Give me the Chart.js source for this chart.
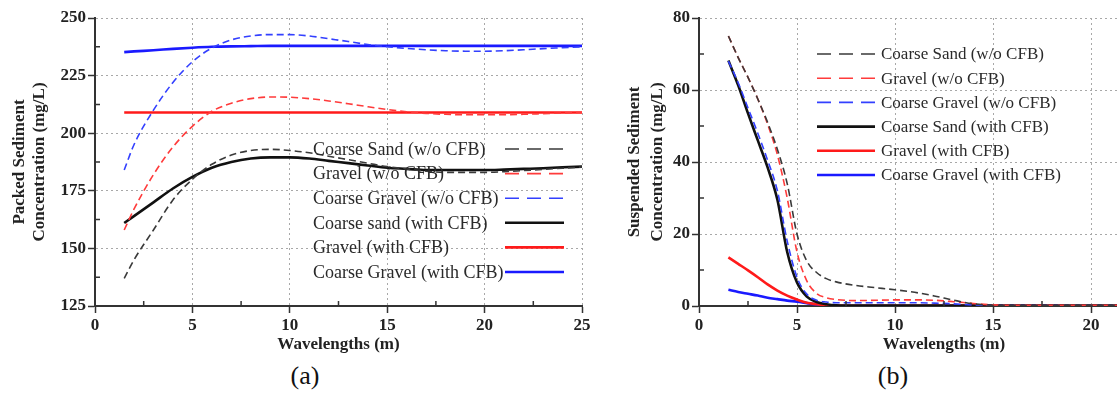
<!DOCTYPE html>
<html>
<head>
<meta charset="utf-8">
<script src="https://cdn.jsdelivr.net/npm/chart.js@4.4.1/dist/chart.umd.min.js"></script>
<style>
  html, body { margin: 0; padding: 0; background: #fff; overflow: hidden; }
  body { width: 1117px; height: 396px; position: relative; }
  .box { position: absolute; top: 0; width: 600px; height: 360px; }
  #boxA { left: 0; }
  #boxB { left: 600px; }
  .cap { position: absolute; top: 361px; line-height: 30px; font: 26px "Liberation Serif", serif; color: #111; transform: translateX(-50%); }
</style>
</head>
<body>
<div class="box" id="boxA"><canvas id="chartA" width="600" height="360"></canvas></div>
<div class="box" id="boxB"><canvas id="chartB" width="600" height="360"></canvas></div>
<div class="cap" style="left:305px">(a)</div>
<div class="cap" style="left:893px">(b)</div>
<script>
// (a) packed sediment concentration
const xA = [1.5, 2, 3, 4, 5, 6, 7, 8, 9, 10, 11, 12, 13, 14, 15, 16, 17, 18, 19, 20, 21, 22, 23, 24, 25];
const sandNoA = [137, 145, 158, 171, 180, 186.5, 190.5, 192.5, 193, 192.5, 191.5, 190, 188.5, 187, 185.5, 184.5, 183.5, 183, 183, 183, 183.3, 183.8, 184.3, 184.8, 185.3];
const gravelNoA = [158, 167, 182, 194, 203, 209.5, 213, 215, 215.7, 215.6, 215, 214, 212.8, 211.5, 210.3, 209.3, 208.6, 208.2, 208, 208, 208, 208.2, 208.5, 208.8, 209];
const cgravelNoA = [184, 195, 210, 222, 231, 237, 240.5, 242.2, 242.8, 242.8, 242.2, 241, 239.8, 238.5, 237.5, 236.8, 236.2, 235.8, 235.6, 235.6, 235.8, 236.2, 236.7, 237.1, 237.5];
const sandCfbA = [161, 164, 170, 176, 181, 185, 187.5, 189, 189.5, 189.5, 189, 188, 187, 186, 185, 184.5, 184, 184, 184, 184, 184.2, 184.5, 184.8, 185.2, 185.5];
const gravelCfbA = [209, 209, 209, 209, 209, 209, 209, 209, 209, 209, 209, 209, 209, 209, 209, 209, 209, 209, 209, 209, 209, 209, 209, 209, 209];
const cgravelCfbA = [235.2, 235.5, 236, 236.6, 237.1, 237.5, 237.7, 237.8, 237.9, 237.9, 237.9, 237.9, 237.9, 237.9, 237.9, 237.9, 237.9, 237.9, 237.9, 237.9, 237.9, 237.9, 237.9, 237.9, 237.9];
const labelsA = ['Coarse Sand (w/o CFB)', 'Gravel (w/o CFB)', 'Coarse Gravel (w/o CFB)', 'Coarse sand (with CFB)', 'Gravel (with CFB)', 'Coarse Gravel (with CFB)'];

// (b) suspended sediment concentration
const xB = [1.5, 2, 2.5, 3, 3.5, 4, 4.5, 5, 5.5, 6, 6.5, 7, 8, 9, 10, 11, 12, 13, 14, 15, 16, 17, 18, 19, 20, 21, 22, 23, 24, 25];
const sandNoB = [75, 69, 63.5, 57.5, 51, 43.5, 34, 20, 12.5, 9.3, 7.6, 6.7, 5.7, 5.1, 4.5, 3.8, 2.8, 1.6, 0.6, 0.2, 0.1, 0.1, 0.1, 0.2, 0.2, 0.2, 0.3, 0.3, 0.3, 0.3];
const gravelNoB = [75, 69, 63.5, 57.5, 50.5, 42, 30, 15, 7, 3.5, 2.3, 1.8, 1.5, 1.6, 1.7, 1.7, 1.6, 1.2, 0.7, 0.3, 0.2, 0.2, 0.2, 0.2, 0.2, 0.2, 0.2, 0.2, 0.2, 0.2];
const cgravelNoB = [68, 62, 55, 48, 40.5, 32, 18, 8, 3.3, 1.6, 1.1, 0.9, 0.9, 0.9, 0.9, 0.9, 0.8, 0.6, 0.3, 0.1, 0.1, 0.1, 0.1, 0.1, 0.1, 0.1, 0.1, 0.1, 0.1, 0.1];
const sandCfbB = [68.2, 61.3, 53.5, 46, 38.5, 29.5, 15, 6.5, 2.6, 1.1, 0.5, 0.2, 0.1, 0.1, 0.1, 0.1, 0.1, 0.1, 0.1, 0.1, 0.1, 0.1, 0.1, 0.1, 0.1, 0.1, 0.1, 0.1, 0.1, 0.1];
const gravelCfbB = [13.5, 11.7, 9.9, 8, 6, 4.3, 2.9, 1.8, 0.9, 0.5, 0.2, 0.1, 0.05, 0.05, 0.05, 0.05, 0.05, 0.05, 0.05, 0.05, 0.05, 0.05, 0.05, 0.05, 0.05, 0.05, 0.05, 0.05, 0.05, 0.05];
const cgravelCfbB = [4.5, 3.9, 3.4, 2.9, 2.3, 1.9, 1.5, 1.2, 0.8, 0.4, 0.1, 0, 0, 0, 0, 0, 0, 0, 0, 0, 0, 0, 0, 0, 0, 0, 0, 0, 0, 0];
const labelsB = ['Coarse Sand (w/o CFB)', 'Gravel (w/o CFB)', 'Coarse Gravel (w/o CFB)', 'Coarse Sand (with CFB)', 'Gravel (with CFB)', 'Coarse Gravel (with CFB)'];

// minor tick values
const minorX = [2.5, 7.5, 12.5, 17.5, 22.5];
const minorYA = [137.5, 162.5, 187.5, 212.5, 237.5];
const minorYB = [10, 30, 50, 70];

const SERIF = '"Liberation Serif", "Times New Roman", serif';
const styles = [
  { color: '#3a3a3a', width: 1.6, dash: [7, 4] },
  { color: '#ff3b3b', width: 1.6, dash: [7, 4] },
  { color: '#3340ff', width: 1.6, dash: [7, 4] },
  { color: '#111111', width: 2.6, dash: [] },
  { color: '#ff1a1a', width: 2.6, dash: [] },
  { color: '#1a1aff', width: 2.6, dash: [] }
];

function makeSets(xs, series, labels) {
  return series.map((ys, i) => ({
    label: labels[i],
    data: xs.map((x, j) => ({ x: x, y: ys[j] })),
    borderColor: styles[i].color,
    borderWidth: styles[i].width,
    borderDash: styles[i].dash,
    pointRadius: 0,
    cubicInterpolationMode: 'monotone',
    fill: false
  }));
}

// small inward ticks between the labelled ones
const minorTicks = {
  id: 'minorTicks',
  afterDraw(chart, args, opts) {
    const { ctx, chartArea: a, scales } = chart;
    ctx.save();
    ctx.strokeStyle = '#333';
    ctx.lineWidth = 1.5;
    ctx.beginPath();
    (opts.x || []).forEach(v => {
      const px = scales.x.getPixelForValue(v);
      ctx.moveTo(px, a.bottom); ctx.lineTo(px, a.bottom - 5);
    });
    (opts.y || []).forEach(v => {
      const py = scales.y.getPixelForValue(v);
      ctx.moveTo(a.left, py); ctx.lineTo(a.left + 5, py);
    });
    ctx.stroke();
    ctx.restore();
  }
};

// legend drawn inside the plot, like the original figure
const insideLegend = {
  id: 'insideLegend',
  afterDatasetsDraw(chart, args, o) {
    const { ctx, chartArea: a } = chart;
    ctx.save();
    ctx.font = o.font;
    ctx.fillStyle = '#2a2a2a';
    ctx.textBaseline = 'middle';
    chart.data.datasets.forEach((ds, i) => {
      const y = a.top + o.y0 + i * o.dy;
      ctx.fillText(ds.label, a.left + o.textX, y + 1);
      ctx.strokeStyle = ds.borderColor;
      ctx.lineWidth = ds.borderWidth;
      ctx.setLineDash(ds.borderDash.length ? o.dash : []);
      ctx.beginPath();
      ctx.moveTo(a.left + o.lineX0, y);
      ctx.lineTo(a.left + o.lineX1, y);
      ctx.stroke();
    });
    ctx.restore();
  }
};

function axisOpts(extra, step) {
  return Object.assign({
    type: 'linear',
    ticks: { stepSize: step, font: { family: SERIF, size: 17, weight: 'bold' }, color: '#222', padding: 2 },
    grid: { color: '#a8a8a8', lineWidth: 1, tickLength: 7, tickColor: '#333', tickWidth: 1.5, tickBorderDash: [] },
    border: { color: '#333', width: 2, dash: [2, 3] }
  }, extra);
}

function makeChart(id, xs, series, labels, cfg) {
  return new Chart(document.getElementById(id), {
    type: 'line',
    data: { datasets: makeSets(xs, series, labels) },
    plugins: [minorTicks, insideLegend],
    options: {
      responsive: false,
      animation: false,
      layout: { padding: { top: 18, right: cfg.padRight, left: 0, bottom: 0 } },
      scales: {
        x: axisOpts({
          min: 0, max: 25,
          afterFit: s => { s.height = 54; },
          title: { display: true, text: 'Wavelengths (m)', color: '#222', font: { family: SERIF, size: 17, weight: 'bold', lineHeight: 1.2 }, padding: { top: 0, bottom: 5 } }
        }, 5),
        y: axisOpts({
          min: cfg.yMin, max: cfg.yMax,
          afterFit: s => { s.width = cfg.yWidth; },
          title: { display: true, text: cfg.yTitle, color: '#222', font: { family: SERIF, size: 17, weight: 'bold', lineHeight: cfg.titleLH }, padding: { top: cfg.titlePad, bottom: 0 } }
        }, cfg.yStep)
      },
      plugins: {
        legend: { display: false },
        tooltip: { enabled: false },
        minorTicks: { x: minorX, y: cfg.minorY },
        insideLegend: cfg.legend
      }
    }
  });
}

makeChart('chartA', xA, [sandNoA, gravelNoA, cgravelNoA, sandCfbA, gravelCfbA, cgravelCfbA], labelsA, {
  yMin: 125, yMax: 250, yStep: 25, yWidth: 95, padRight: 18, minorY: minorYA,
  yTitle: ['Packed Sediment', 'Concentration (mg/L)'], titleLH: 1.2, titlePad: 9,
  legend: { font: '18px ' + SERIF, textX: 218, lineX0: 410, lineX1: 469, y0: 131, dy: 24.6, dash: [14, 8] }
});
makeChart('chartB', xB, [sandNoB, gravelNoB, cgravelNoB, sandCfbB, gravelCfbB, cgravelCfbB], labelsB, {
  yMin: 0, yMax: 80, yStep: 20, yWidth: 99, padRight: 11, minorY: minorYB,
  yTitle: ['Suspended Sediment', 'Concentration (mg/L)'], titleLH: 1.3, titlePad: 24,
  legend: { font: '17px ' + SERIF, textX: 182, lineX0: 118, lineX1: 176, y0: 36, dy: 24.2, dash: [14, 8] }
});
</script>
</body>
</html>
